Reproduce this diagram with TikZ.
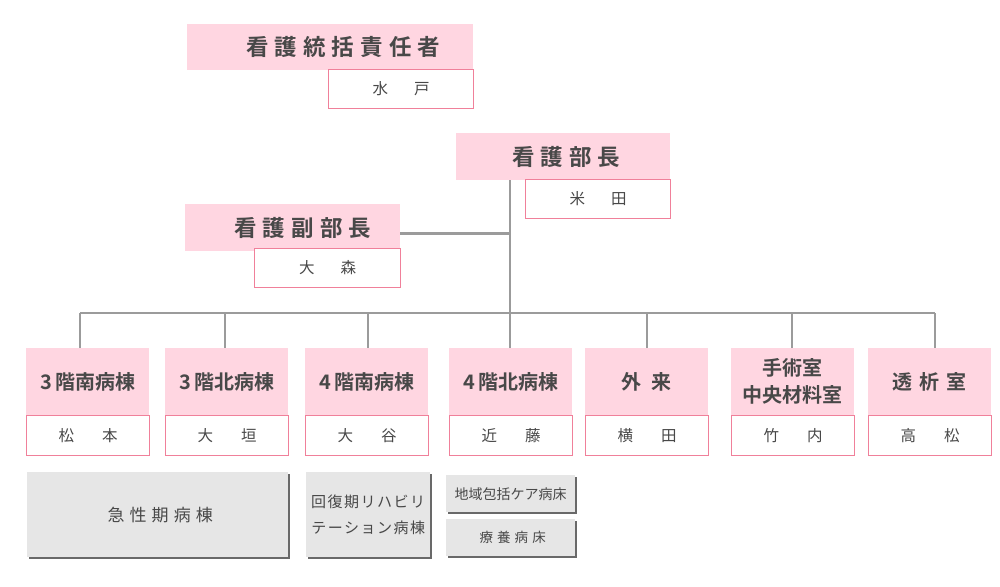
\documentclass[tikz,border=0pt]{standalone}
\usepackage{fontspec}
\newfontfamily\jp{Noto Sans CJK JP}[BoldFont={Noto Sans CJK JP Bold}]
\usetikzlibrary{positioning,shadows}
\definecolor{rosa}{RGB}{255,214,225}
\definecolor{rosaline}{RGB}{240,128,154}
\definecolor{grau}{RGB}{230,230,230}
\definecolor{txt}{RGB}{72,72,72}
\definecolor{wire}{RGB}{155,155,155}
\newcommand{\ls}[1]{\addfontfeature{LetterSpace=#1}}

\begin{document}
\begin{tikzpicture}[x=1pt,y=-1pt,
	head/.style={fill=rosa, text=txt, anchor=north west, inner sep=0pt, font=\jp\bfseries\fontsize{22.5}{24}\selectfont\ls{27}},
	dept/.style={fill=rosa, text=txt, anchor=north west, inner sep=0pt, minimum width=123pt, minimum height=67pt, align=center, font=\jp\bfseries\fontsize{20}{27}\selectfont},
	person/.style={draw=rosaline, line width=1.1pt, fill=white, text=txt, anchor=north west, inner sep=0pt, font=\jp\fontsize{15.5}{16}\selectfont},
	ward/.style={fill=grau, text=txt, anchor=north west, inner sep=0pt, align=center, drop shadow={shadow xshift=2pt, shadow yshift=-2pt, fill=black!65, opacity=.9}},
	wire/.style={draw=wire, line width=2.8pt}]
\useasboundingbox (0,0) rectangle (1000,586);

% top
\node[head, minimum width=286pt, minimum height=46pt] (chief) at (187,24) {\hspace{26pt}看護統括責任者};
\node[person, minimum width=145pt, minimum height=39pt] (chiefn) at (328,69) {水\hspace{26pt}戸};

\node[head, minimum width=214pt, minimum height=47pt] (dir) at (456,133) {\hspace{6pt}看護部長};
\node[person, minimum width=145pt, minimum height=39pt] (dirn) at (525,179) {米\hspace{26pt}田};

\node[head, minimum width=215pt, minimum height=47pt] (vice) at (185,204) {\hspace{20pt}看護副部長};
\node[person, minimum width=146pt, minimum height=39pt] (vicen) at (254,248) {大\hspace{26pt}森};

% departments
\foreach \i/\x/\t/\n in {1/26/3\,階南病棟/松\hspace{28pt}本, 2/165/3\,階北病棟/大\hspace{28pt}垣,
	3/305/4\,階南病棟/大\hspace{28pt}谷, 4/449/4\,階北病棟/近\hspace{28pt}藤,
	5/585/外\hspace{10pt}来/横\hspace{28pt}田, 6/731/手術室\\中央材料室/竹\hspace{28pt}内,
	7/868/透\hspace{7pt}析\hspace{7pt}室/高\hspace{28pt}松}{
	\node[dept] (d\i) at (\x,348) {\t};
	\node[person, minimum width=123pt, minimum height=40pt] (n\i) at (\x,415) {\n};
}

\foreach \i/\x in {1/80,2/225,3/368,4/510,5/647,6/792,7/935}
	\coordinate (t\i) at (\x,313);

\coordinate (top) at (dir.south west -| t4);
\coordinate (vj) at ([yshift=-6pt]vice.east);
\coordinate (mid) at (vj -| t4);

\path[wire]
(top) edge (t4)
(vj) edge (mid)
(t1) edge (t7)
;
\foreach \i in {1,...,7}
	\path[wire] (t\i) edge (t\i |- d\i.north);

% wards
\node[ward, minimum width=261pt, minimum height=85pt, font=\jp\fontsize{17}{18}\selectfont\ls{30}] (acute) at (27,472) {\hspace{5pt}急性期病棟};
\node[ward, minimum width=124pt, minimum height=85pt, font=\jp\fontsize{15}{26}\selectfont\ls{10}] (rehab) at (306,472) {回復期リハビリ\\テーション病棟};
\node[ward, minimum width=129pt, minimum height=37pt, font=\jp\fontsize{14}{15}\selectfont] (comm) at (446,475) {地域包括ケア病床};
\node[ward, minimum width=129pt, minimum height=37pt, font=\jp\fontsize{13.5}{15}\selectfont\ls{30}] (care) at (446,519) {\hspace{4pt}療養病床};
\end{tikzpicture}
\end{document}
